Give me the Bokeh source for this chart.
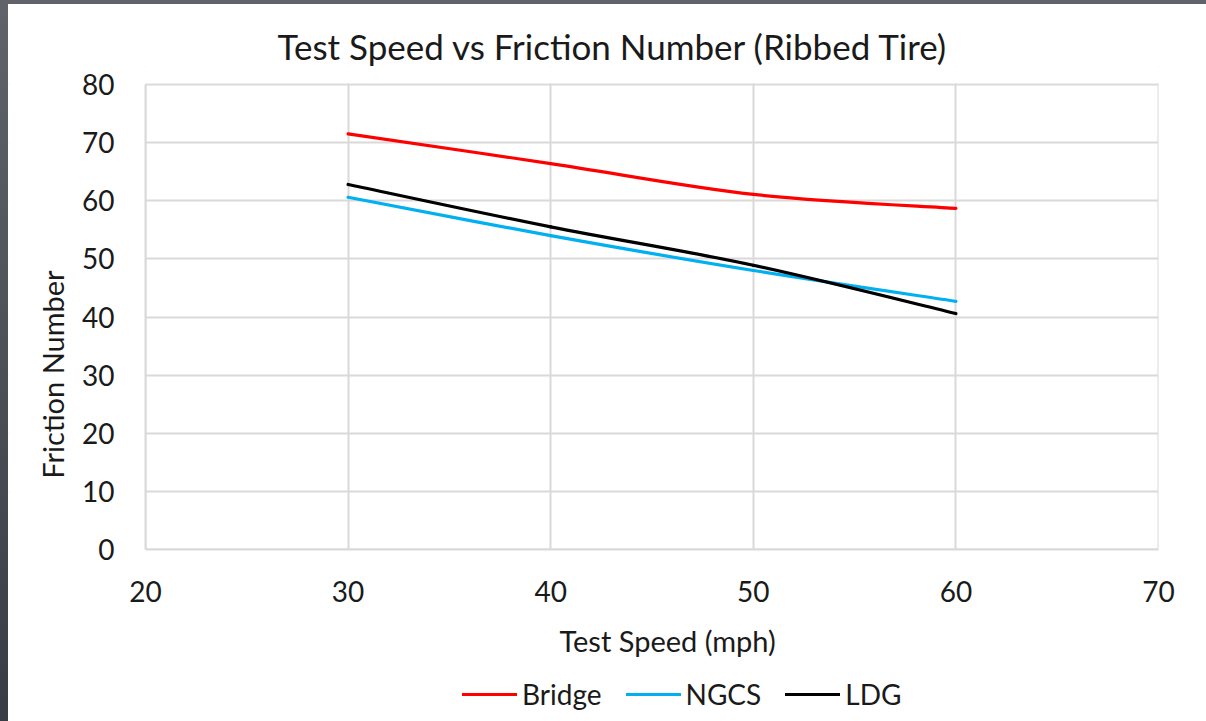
import math
from bokeh.plotting import figure
from bokeh.models import (Range1d, Legend, LegendItem, Title, Div, FixedTicker,
                          Label, BoxAnnotation)
from bokeh.layouts import row, column
from bokeh.embed import file_html
from bokeh.resources import INLINE

# ---- data ----
speeds = [30, 40, 50, 60]
bridge = [71.5, 66.4, 61.1, 58.7]
ngcs = [60.6, 54.0, 48.0, 42.7]
ldg = [62.8, 55.5, 48.9, 40.6]
x_ticks = [20, 30, 40, 50, 60, 70]
y_ticks = [0, 10, 20, 30, 40, 50, 60, 70, 80]
series_names = ["Bridge", "NGCS", "LDG"]
colors = ["#ff0000", "#00b0f0", "#000000"]

title_text = "Test Speed vs Friction Number (Ribbed Tire)"
x_label = "Test Speed (mph)"
y_label = "Friction Number"

FONT = "Lato"
TXT = "#1a1a1a"
GRID = "#d9d9d9"

# The frame fills the canvas below the title; the axes sit at x=20 / y=0 and
# the margins outside 20..70 / 0..80 hold tick labels, axis titles and legend.
p = figure(width=1198, height=717, output_backend="svg", toolbar_location=None,
           x_range=Range1d(13.238, 72.369), y_range=Range1d(-29.59, 83.097),
           min_border_left=0, min_border_right=0, min_border_top=62, min_border_bottom=0)
p.outline_line_color = None
p.background_fill_color = "white"
p.border_fill_color = "white"

for ax in (p.xaxis[0], p.yaxis[0]):
    ax.axis_line_color = GRID
    ax.axis_line_width = 2
    ax.major_tick_line_color = None
    ax.minor_tick_line_color = None
    ax.major_tick_out = 0
    ax.major_tick_in = 0
    ax.major_label_text_font = FONT
    ax.major_label_text_font_size = "28px"
    ax.major_label_text_color = TXT
p.xaxis.fixed_location = 0
p.yaxis.fixed_location = 20
p.xaxis.major_label_standoff = 31
p.yaxis.major_label_standoff = 31
p.xaxis.bounds = (20, 70)
p.yaxis.bounds = (0, 80)
p.xaxis.ticker = FixedTicker(ticks=x_ticks)
p.yaxis.ticker = FixedTicker(ticks=y_ticks)
p.xgrid.ticker = FixedTicker(ticks=x_ticks)
p.ygrid.ticker = FixedTicker(ticks=y_ticks)
p.grid.grid_line_color = GRID
p.grid.grid_line_width = 2

# mask grid lines outside the plotted area (x < 20, x > 70, y < 0, y > 80)
for kw in (dict(top=0), dict(bottom=80.2), dict(right=20), dict(left=70)):
    p.add_layout(BoxAnnotation(fill_color="white", fill_alpha=1.0,
                               line_color=None, level="glyph", **kw))


def smooth_segments(xs, ys):
    # Catmull-Rom style control points (Excel "smoothed line" rendering)
    n = len(xs)
    seg = dict(x0=[], y0=[], x1=[], y1=[], cx0=[], cy0=[], cx1=[], cy1=[])
    for i in range(n - 1):
        i0 = max(i - 1, 0)
        i3 = min(i + 2, n - 1)
        seg["x0"].append(xs[i]); seg["y0"].append(ys[i])
        seg["x1"].append(xs[i + 1]); seg["y1"].append(ys[i + 1])
        seg["cx0"].append(xs[i] + (xs[i + 1] - xs[i0]) / 6)
        seg["cy0"].append(ys[i] + (ys[i + 1] - ys[i0]) / 6)
        seg["cx1"].append(xs[i + 1] - (xs[i3] - xs[i]) / 6)
        seg["cy1"].append(ys[i + 1] - (ys[i3] - ys[i]) / 6)
    return seg


items = []
for name, ys, c in zip(series_names, [bridge, ngcs, ldg], colors):
    r = p.bezier(line_color=c, line_width=3.2, line_cap="round",
                 **smooth_segments(speeds, ys))
    items.append(LegendItem(label=name, renderers=[r]))

# title (above)
p.title = Title(text=title_text, align="left", offset=269, standoff=0,
                text_font=FONT, text_font_size="35px", text_font_style="normal",
                text_color=TXT)
# y-axis title
p.add_layout(Label(x=15.42, y=30.1, text=y_label, angle=math.pi / 2,
                   text_align="center", text_baseline="middle", text_font=FONT,
                   text_font_size="29px", text_color=TXT))
# x-axis title
p.add_layout(Label(x=45.77, y=-15.6, text=x_label, text_align="center",
                   text_baseline="middle", text_font=FONT,
                   text_font_size="29px", text_color=TXT))

legend = Legend(items=items, orientation="horizontal", location=(454, 10),
                padding=0, margin=0, spacing=24, glyph_width=55, glyph_height=30,
                label_height=30, label_standoff=5, border_line_color=None,
                background_fill_alpha=0, label_text_font=FONT,
                label_text_font_size="28px", label_text_color=TXT)
p.add_layout(legend, "center")

left_strip = Div(width=8, height=721, margin=0,
                 styles={"background": "linear-gradient(#60646a, #383d45)"})
top_strip = Div(width=1198, height=4, margin=0, styles={"background": "#60646a"})
layout = row(left_strip, column(top_strip, p, spacing=0), spacing=0)

open("out.html", "w").write(file_html(layout, INLINE))
